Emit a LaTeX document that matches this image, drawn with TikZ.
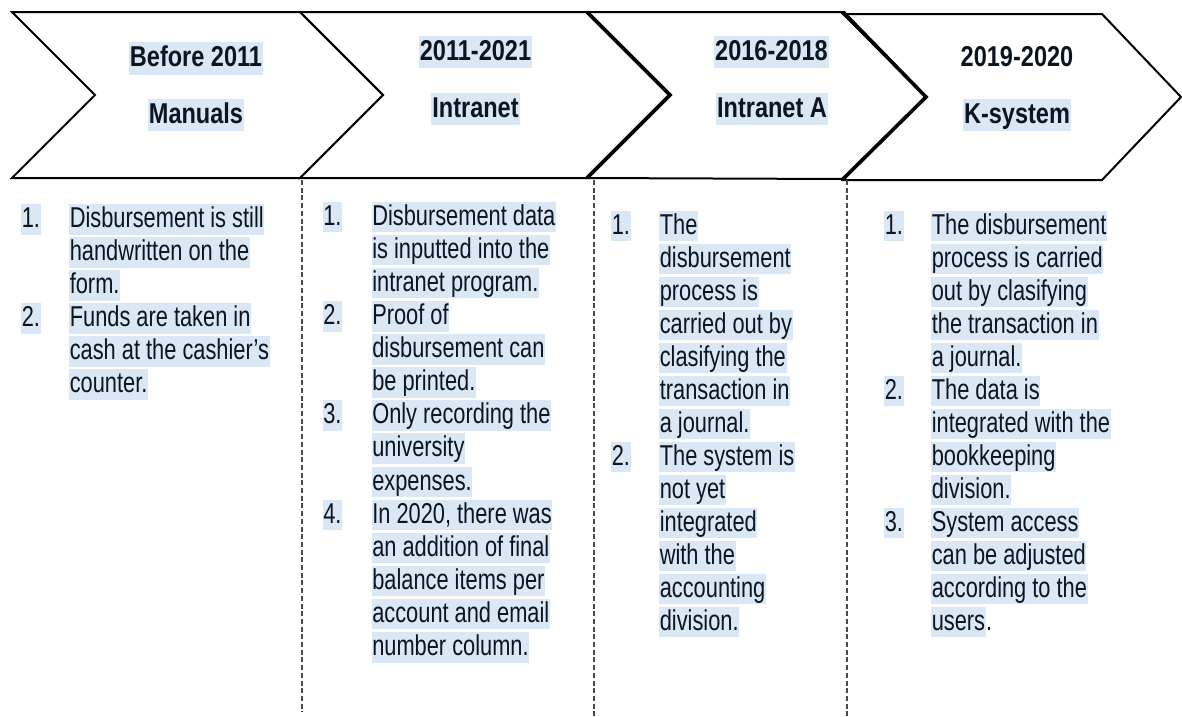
\documentclass[tikz,border=0pt]{standalone}
\usepackage{fontspec}
\newfontfamily\bodyfont[FakeStretch=0.76]{Liberation Sans}
\newfontfamily\headfont[FakeStretch=0.82]{Liberation Sans}
\definecolor{hlblue}{HTML}{DAE8F5}
\definecolor{ink}{HTML}{0B1520}
\definecolor{sepgray}{HTML}{4A4A4A}
\begin{document}
\begin{tikzpicture}[x=1pt,y=-1pt,
  chev/.style={draw=black, line width=2pt, line join=miter},
  chevedge/.style={draw=black, line width=3.6pt, line join=miter},
  colsep/.style={draw=sepgray, line width=1.2pt, dash pattern=on 5pt off 2.7pt},
  body/.style={text=ink, inner xsep=0.6pt, inner ysep=0pt, text height=23.5pt, text depth=7pt,
    anchor=west, font=\bodyfont\fontsize{28.7}{33}\selectfont},
  hl/.style={body, fill=hlblue},
  head/.style={text=ink, inner xsep=1pt, inner ysep=0pt, text height=24.5pt, text depth=8pt,
    font=\headfont\bfseries\fontsize{28.7}{33}\selectfont},
  headhl/.style={head, fill=hlblue}]
\useasboundingbox (0,0) rectangle (1182,716);

% ---- chevron band ----
\draw[chev] (12,12) -- (300,12) -- (383,95) -- (300,178) -- (12,178) -- (95,95) -- cycle;
\draw[chev] (300,12) -- (587,12) -- (670,95) -- (587,178) -- (300,178) -- (383,95) -- cycle;
\draw[chev] (587,12) -- (843,12) -- (926,97) -- (843,179) -- (587,178) -- (670,95) -- cycle;
\draw[chev] (843,14) -- (1102,14) -- (1181,97) -- (1102,180) -- (843,180) -- (926,97) -- cycle;
\draw[chevedge] (587,12) -- (670,95) -- (587,178);
\draw[chevedge] (843,12) -- (926,97) -- (843,179);

% ---- period titles ----
\node[headhl] (h1a) at (196,58.5) {Before 2011};
\node[headhl] (h1b) at (196,115) {Manuals};
\node[headhl] (h2a) at (475.5,52) {2011-2021};
\node[headhl] (h2b) at (475.5,109) {Intranet};
\node[headhl] (h3a) at (771.5,52) {2016-2018};
\node[headhl] (h3b) at (772,109) {Intranet A};
\node[head]   (h4a) at (1017,58) {2019-2020};
\node[headhl] (h4b) at (1017,115) {K-system};

% ---- column separators ----
\draw[colsep] (302,180) -- (302,712);
\draw[colsep] (594,180) -- (594,716);
\draw[colsep] (847,180) -- (847,716);

% ---- column 1 ----
\foreach \txt [count=\i from 0] in {{Disbursement is still},{handwritten on the},{form.},
  {Funds are taken in},{cash at the cashier’s},{counter.}}
  \node[hl] (a\i) at (69,{219.5+33*\i}) {\txt};
\node[hl] (an1) at (21,219.5) {1.};
\node[hl] (an2) at (21,{219.5+33*3}) {2.};

% ---- column 2 ----
\foreach \txt [count=\i from 0] in {{Disbursement data},{is inputted into the},{intranet program.},
  {Proof of},{disbursement can},{be printed.},
  {Only recording the},{university},{expenses.},
  {In 2020, there was},{an addition of final},{balance items per},{account and email},{number column.}}
  \node[hl] (b\i) at (371.5,{217+33.1*\i}) {\txt};
\node[hl] (bn1) at (322.5,217) {1.};
\node[hl] (bn2) at (322.5,{217+33.1*3}) {2.};
\node[hl] (bn3) at (322.5,{217+33.1*6}) {3.};
\node[hl] (bn4) at (322.5,{217+33.1*9}) {4.};

% ---- column 3 ----
\foreach \txt [count=\i from 0] in {{The},{disbursement},{process is},{carried out by},
  {clasifying the},{transaction in},{a journal.},
  {The system is},{not yet},{integrated},{with the},{accounting},{division.}}
  \node[hl] (c\i) at (659,{226+33*\i}) {\txt};
\node[hl] (cn1) at (611,226) {1.};
\node[hl] (cn2) at (611,{226+33*7}) {2.};

% ---- column 4 ----
\foreach \txt [count=\i from 0] in {{The disbursement},{process is carried},{out by clasifying},
  {the transaction in},{a journal.},
  {The data is},{integrated with the},{bookkeeping},{division.},
  {System access},{can be adjusted},{according to the},{users}}
  \node[hl] (d\i) at (931,{226+33*\i}) {\txt};
\node[body, anchor=base west, inner xsep=0pt] (dend) at (d12.base east) {.};
\node[hl] (dn1) at (884,226) {1.};
\node[hl] (dn2) at (884,{226+33*5}) {2.};
\node[hl] (dn3) at (884,{226+33*9}) {3.};
\end{tikzpicture}
\end{document}
